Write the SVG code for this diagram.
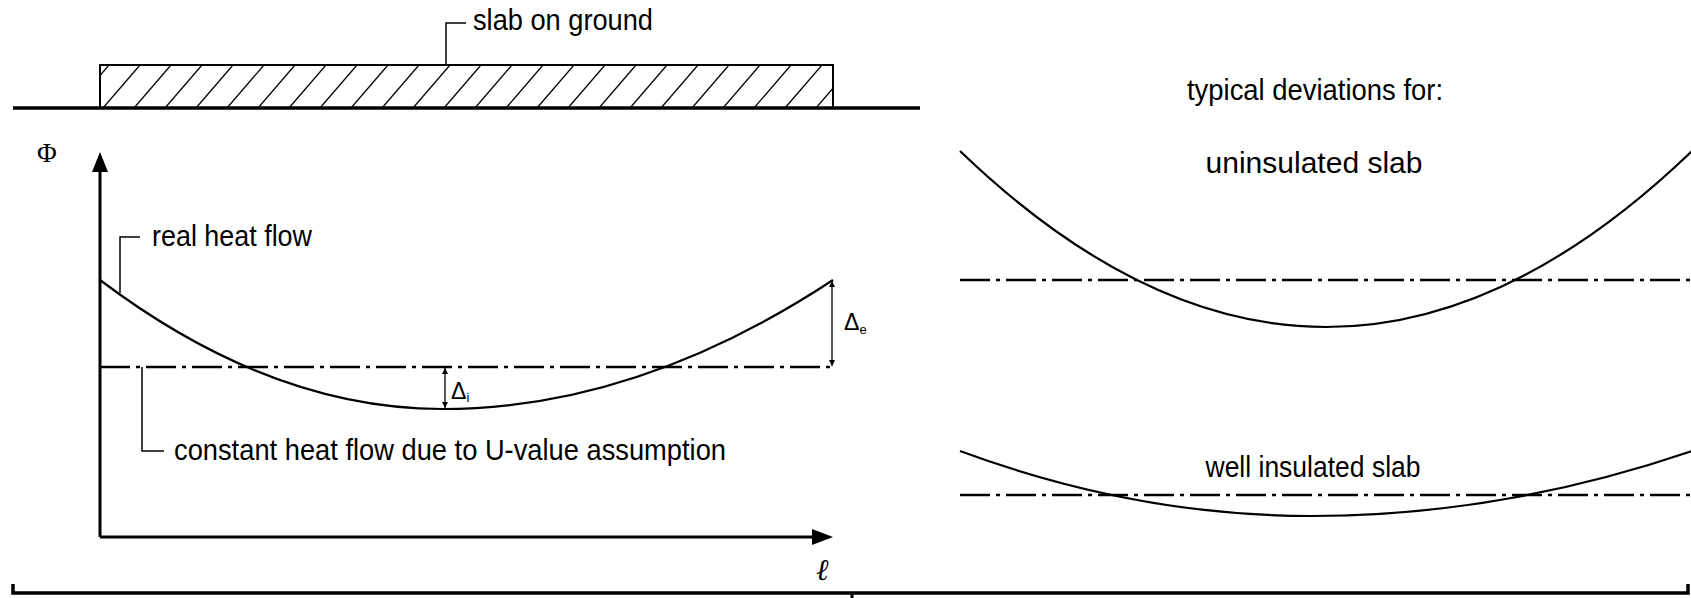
<svg xmlns="http://www.w3.org/2000/svg" width="1691" height="598" viewBox="0 0 1691 598">
<style>
.t{font-family:"Liberation Sans",Arial,sans-serif;font-size:30px;fill:#000}
.ln{stroke:#000;fill:none}
.thin{stroke-width:1.5}
.curve{stroke-width:2.2}
.axis{stroke-width:3}
.dd{stroke:#000;stroke-width:2.4;fill:none;stroke-dasharray:30 6 4 6}
.hatch{stroke:#000;stroke-width:1.3}
.d{font-family:"Liberation Sans",Arial,sans-serif;font-size:23px}
.sub{font-size:13px}
</style>
<defs>
<clipPath id="slabclip"><rect x="100" y="65" width="733" height="43"/></clipPath>
<marker id="sa" viewBox="0 0 10 10" refX="10" refY="5" markerWidth="7" markerHeight="6" orient="auto-start-reverse" markerUnits="userSpaceOnUse"><path d="M0,0 L10,5 L0,10 Z" fill="#000"/></marker>
</defs>

<g id="slab">
<g clip-path="url(#slabclip)" class="hatch">
<line x1="72" y1="108" x2="109" y2="65"/><line x1="103" y1="108" x2="140" y2="65"/><line x1="134" y1="108" x2="171" y2="65"/><line x1="165" y1="108" x2="202" y2="65"/><line x1="196" y1="108" x2="233" y2="65"/><line x1="227" y1="108" x2="264" y2="65"/><line x1="258" y1="108" x2="295" y2="65"/><line x1="289" y1="108" x2="326" y2="65"/><line x1="320" y1="108" x2="357" y2="65"/><line x1="351" y1="108" x2="388" y2="65"/><line x1="382" y1="108" x2="419" y2="65"/><line x1="413" y1="108" x2="450" y2="65"/><line x1="444" y1="108" x2="481" y2="65"/><line x1="475" y1="108" x2="512" y2="65"/><line x1="506" y1="108" x2="543" y2="65"/><line x1="537" y1="108" x2="574" y2="65"/><line x1="568" y1="108" x2="605" y2="65"/><line x1="599" y1="108" x2="636" y2="65"/><line x1="630" y1="108" x2="667" y2="65"/><line x1="661" y1="108" x2="698" y2="65"/><line x1="692" y1="108" x2="729" y2="65"/><line x1="723" y1="108" x2="760" y2="65"/><line x1="754" y1="108" x2="791" y2="65"/><line x1="785" y1="108" x2="822" y2="65"/><line x1="816" y1="108" x2="853" y2="65"/>
</g>
<rect x="100" y="65" width="733" height="43" class="ln" stroke-width="2"/>
<line x1="13" y1="108" x2="920" y2="108" stroke="#000" stroke-width="3.5"/>
<path d="M446,65 V23 H466" class="ln thin"/>
<text x="473" y="30" class="t" textLength="180" lengthAdjust="spacingAndGlyphs">slab on ground</text>
</g>

<g id="left-chart">
<line x1="100" y1="537" x2="100" y2="168" class="ln axis"/>
<path d="M100,152 L92,172 L108,172 Z" fill="#000"/>
<line x1="100" y1="537" x2="816" y2="537" class="ln axis"/>
<path d="M833,537 L812,529 L812,545 Z" fill="#000"/>
<text x="37" y="162" font-family="Liberation Serif,serif" font-size="27">Φ</text>
<text x="816" y="580" font-family="DejaVu Serif,serif" font-style="italic" font-size="30">ℓ</text>
<line x1="100" y1="367" x2="833" y2="367" class="dd"/>
<path d="M100,280 Q271,409 442,409 Q637,409 833,280" class="ln curve"/>
</g>

<g id="label-real">
<path d="M120,293 V237 H140" class="ln thin"/>
<text x="152" y="246" class="t" textLength="160" lengthAdjust="spacingAndGlyphs">real heat flow</text>
</g>

<g id="label-constant">
<path d="M142,367 V451 H164" class="ln thin"/>
<text x="174" y="460" class="t" textLength="552" lengthAdjust="spacingAndGlyphs">constant heat flow due to U-value assumption</text>
</g>

<g id="delta-i">
<line x1="445" y1="368" x2="445" y2="408" class="ln" stroke-width="1.3" marker-start="url(#sa)" marker-end="url(#sa)"/>
<text x="451" y="399" class="d">Δ<tspan class="sub" dy="3">i</tspan></text>
</g>

<g id="delta-e">
<line x1="832" y1="281" x2="832" y2="366" class="ln" stroke-width="1.3" marker-start="url(#sa)" marker-end="url(#sa)"/>
<text x="844" y="330" class="d">Δ<tspan class="sub" dy="4">e</tspan></text>
</g>

<g id="right-panel">
<text x="1315" y="100" class="t" text-anchor="middle" textLength="256" lengthAdjust="spacingAndGlyphs">typical deviations for:</text>
<text x="1314" y="173" class="t" text-anchor="middle" textLength="217" lengthAdjust="spacingAndGlyphs">uninsulated slab</text>
<line x1="960" y1="280" x2="1691" y2="280" class="dd"/>
<path d="M960,151 Q1143,327 1326,327 Q1509,327 1692,151" class="ln curve"/>
<text x="1313" y="477" class="t" text-anchor="middle" textLength="215" lengthAdjust="spacingAndGlyphs">well insulated slab</text>
<line x1="960" y1="495" x2="1691" y2="495" class="dd"/>
<path d="M960,451 Q1136,516 1312,516 Q1501,516 1692,451" class="ln curve"/>
</g>

<g id="connectors">
<path d="M13,584 V593 H1688 V584" class="ln" stroke-width="3.5"/>
<line x1="852" y1="593" x2="852" y2="598" class="ln" stroke-width="3"/>
</g>
</svg>
